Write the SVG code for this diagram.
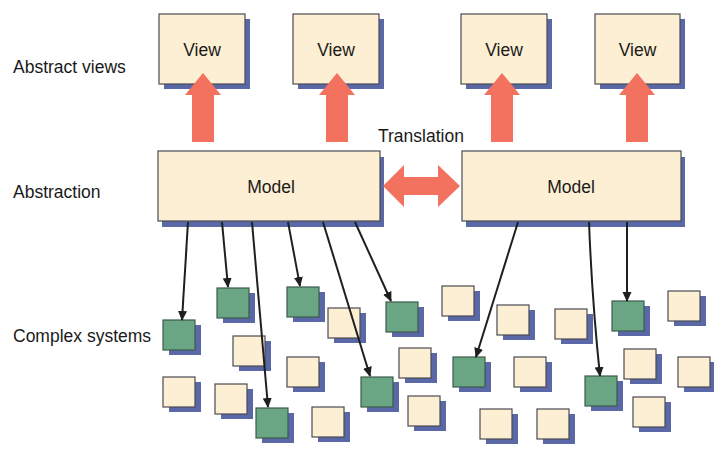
<svg xmlns="http://www.w3.org/2000/svg" xmlns:xlink="http://www.w3.org/1999/xlink" width="714" height="459" viewBox="0 0 714 459">
  <defs>
    <style>
      .lbl { font-family: "Liberation Sans", Arial, sans-serif; font-size: 17.5px; fill: #1a1a1a; }
      .box { fill: #fcefd3; stroke: #4a4a52; stroke-width: 1.2; }
      .shadow { fill: #5a68a8; }
      .sys { fill: #fcefd3; stroke: #4a4a52; stroke-width: 1.2; }
      .sys.on { fill: #6aa584; stroke: #3e5a4c; }
      .flow { fill: #f2715f; }
      .link { fill: none; stroke: #1f1f1f; stroke-width: 2; marker-end: url(#tip); }
    </style>
    <marker id="tip" viewBox="0 0 10 10" refX="9" refY="5" markerWidth="10" markerHeight="10" markerUnits="userSpaceOnUse" orient="auto">
      <path d="M0,0.5 L10,5 L0,9.5 Z" fill="#1f1f1f"/>
    </marker>
    <!-- upward block arrow, tip at origin -->
    <path id="up" d="M0,0 L18,22 L11,22 L11,69 L-11,69 L-11,22 L-18,22 Z"/>
  </defs>

  <rect width="714" height="459" fill="#ffffff"/>

  <!-- row labels -->
  <g id="labels">
    <text class="lbl" x="13" y="73">Abstract views</text>
    <text class="lbl" x="13" y="198">Abstraction</text>
    <text class="lbl" x="13" y="342">Complex systems</text>
    <text class="lbl" x="378" y="142">Translation</text>
  </g>

  <!-- views -->
  <g id="view1">
    <rect class="shadow" x="164" y="19" width="86" height="70"/>
    <rect class="box" x="159" y="14" width="86" height="70"/>
    <text class="lbl" x="202" y="56" text-anchor="middle">View</text>
  </g>
  <g id="view2">
    <rect class="shadow" x="298" y="19" width="86" height="70"/>
    <rect class="box" x="293" y="14" width="86" height="70"/>
    <text class="lbl" x="336" y="56" text-anchor="middle">View</text>
  </g>
  <g id="view3">
    <rect class="shadow" x="466" y="19" width="86" height="70"/>
    <rect class="box" x="461" y="14" width="86" height="70"/>
    <text class="lbl" x="504" y="56" text-anchor="middle">View</text>
  </g>
  <g id="view4">
    <rect class="shadow" x="600" y="19" width="85" height="70"/>
    <rect class="box" x="595" y="14" width="85" height="70"/>
    <text class="lbl" x="637.5" y="56" text-anchor="middle">View</text>
  </g>

  <!-- models -->
  <g id="model1">
    <rect class="shadow" x="162" y="157" width="222" height="70"/>
    <rect class="box" x="158" y="151" width="222" height="70"/>
    <text class="lbl" x="271" y="193" text-anchor="middle">Model</text>
  </g>
  <g id="model2">
    <rect class="shadow" x="466" y="157" width="219" height="70"/>
    <rect class="box" x="462" y="151" width="219" height="70"/>
    <text class="lbl" x="571" y="193" text-anchor="middle">Model</text>
  </g>

  <!-- systems: used parts (green) and the rest (cream) -->
  <g id="systems">
    <g id="s1"><rect class="shadow" x="169" y="325" width="32" height="30"/><rect class="sys on" x="163" y="320" width="32" height="30"/></g>
    <g id="s2"><rect class="shadow" x="223" y="293" width="32" height="30"/><rect class="sys on" x="217" y="288" width="32" height="30"/></g>
    <g id="s3"><rect class="shadow" x="293" y="292" width="32" height="30"/><rect class="sys on" x="287" y="287" width="32" height="30"/></g>
    <g id="s4"><rect class="shadow" x="262" y="413" width="32" height="30"/><rect class="sys on" x="256" y="408" width="32" height="30"/></g>
    <g id="s5"><rect class="shadow" x="392" y="307" width="32" height="30"/><rect class="sys on" x="386" y="302" width="32" height="30"/></g>
    <g id="s6"><rect class="shadow" x="618" y="306" width="32" height="30"/><rect class="sys on" x="612" y="301" width="32" height="30"/></g>
    <g id="s7"><rect class="shadow" x="367" y="382" width="32" height="30"/><rect class="sys on" x="361" y="377" width="32" height="30"/></g>
    <g id="s8"><rect class="shadow" x="459" y="362" width="32" height="30"/><rect class="sys on" x="453" y="357" width="32" height="30"/></g>
    <g id="s9"><rect class="shadow" x="591" y="381" width="32" height="30"/><rect class="sys on" x="585" y="376" width="32" height="30"/></g>

    <g id="s10"><rect class="shadow" x="334" y="313" width="32" height="30"/><rect class="sys" x="328" y="308" width="32" height="30"/></g>
    <g id="s11"><rect class="shadow" x="239" y="341" width="32" height="30"/><rect class="sys" x="233" y="336" width="32" height="30"/></g>
    <g id="s12"><rect class="shadow" x="293" y="362" width="32" height="30"/><rect class="sys" x="287" y="357" width="32" height="30"/></g>
    <g id="s13"><rect class="shadow" x="169" y="382" width="32" height="30"/><rect class="sys" x="163" y="377" width="32" height="30"/></g>
    <g id="s14"><rect class="shadow" x="221" y="389" width="32" height="30"/><rect class="sys" x="215" y="384" width="32" height="30"/></g>
    <g id="s15"><rect class="shadow" x="318" y="412" width="32" height="30"/><rect class="sys" x="312" y="407" width="32" height="30"/></g>
    <g id="s16"><rect class="shadow" x="448" y="291" width="32" height="30"/><rect class="sys" x="442" y="286" width="32" height="30"/></g>
    <g id="s17"><rect class="shadow" x="503" y="310" width="32" height="30"/><rect class="sys" x="497" y="305" width="32" height="30"/></g>
    <g id="s18"><rect class="shadow" x="561" y="314" width="32" height="30"/><rect class="sys" x="555" y="309" width="32" height="30"/></g>
    <g id="s19"><rect class="shadow" x="674" y="296" width="32" height="30"/><rect class="sys" x="668" y="291" width="32" height="30"/></g>
    <g id="s20"><rect class="shadow" x="405" y="353" width="32" height="30"/><rect class="sys" x="399" y="348" width="32" height="30"/></g>
    <g id="s21"><rect class="shadow" x="520" y="362" width="32" height="30"/><rect class="sys" x="514" y="357" width="32" height="30"/></g>
    <g id="s22"><rect class="shadow" x="630" y="354" width="32" height="30"/><rect class="sys" x="624" y="349" width="32" height="30"/></g>
    <g id="s23"><rect class="shadow" x="684" y="362" width="32" height="30"/><rect class="sys" x="678" y="357" width="32" height="30"/></g>
    <g id="s24"><rect class="shadow" x="414" y="401" width="32" height="30"/><rect class="sys" x="408" y="396" width="32" height="30"/></g>
    <g id="s25"><rect class="shadow" x="486" y="414" width="32" height="30"/><rect class="sys" x="480" y="409" width="32" height="30"/></g>
    <g id="s26"><rect class="shadow" x="543" y="414" width="32" height="30"/><rect class="sys" x="537" y="409" width="32" height="30"/></g>
    <g id="s27"><rect class="shadow" x="639" y="402" width="32" height="30"/><rect class="sys" x="633" y="397" width="32" height="30"/></g>
  </g>

  <!-- connectors -->
  <g id="connectors">
    <!-- model to view -->
    <use xlink:href="#up" class="flow" x="203" y="73"/>
    <use xlink:href="#up" class="flow" x="337" y="73"/>
    <use xlink:href="#up" class="flow" x="502" y="73"/>
    <use xlink:href="#up" class="flow" x="637" y="73"/>
    <!-- translation between models -->
    <path class="flow" d="M383,186 L404,165 L404,177 L438,177 L438,165 L460,186 L438,207 L438,195 L404,195 L404,207 Z"/>
    <!-- model to system parts -->
    <line class="link" x1="188" y1="222" x2="182" y2="320"/>
    <line class="link" x1="222" y1="222" x2="228" y2="287"/>
    <line class="link" x1="252" y1="222" x2="268" y2="407"/>
    <line class="link" x1="288" y1="222" x2="300" y2="286"/>
    <line class="link" x1="323" y1="222" x2="370" y2="376"/>
    <line class="link" x1="355" y1="222" x2="391" y2="301"/>
    <line class="link" x1="518" y1="222" x2="476" y2="357"/>
    <path class="link" d="M589,222 Q592,300 600,376"/>
    <line class="link" x1="627" y1="222" x2="627" y2="301"/>
  </g>
</svg>
